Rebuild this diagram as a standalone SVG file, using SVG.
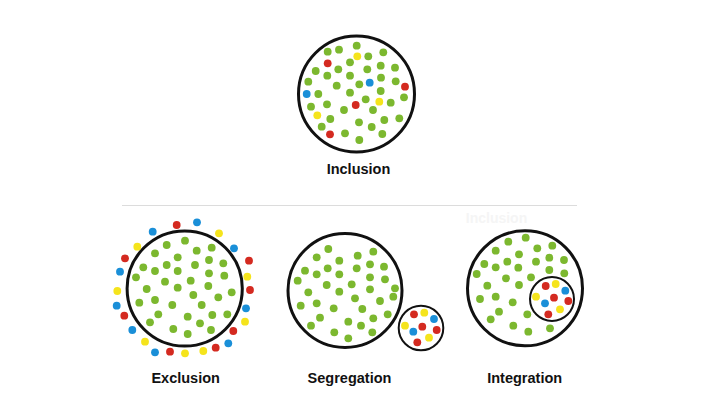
<svg xmlns="http://www.w3.org/2000/svg" width="716" height="412" viewBox="0 0 716 412">
<style>
.ring{fill:none;stroke:#111;stroke-width:3}
.ring2{fill:none;stroke:#111;stroke-width:2}
.g{fill:#7cb82f}
.r{fill:#d42a20}
.b{fill:#1a8fd8}
.y{fill:#f5e41c}
.lbl{font-family:"Liberation Sans",Arial,sans-serif;font-weight:bold;font-size:14.5px;fill:#111;text-anchor:middle}
</style>
<defs>
<circle id="d" r="3.9"/>
</defs>
<rect width="716" height="412" fill="#fff"/>

<g id="inclusion">
<circle class="ring" cx="356.5" cy="94" r="58"/>
<g class="g">
<use href="#d" x="356.7" y="45.7"/><use href="#d" x="327.7" y="51.7"/><use href="#d" x="339" y="49.7"/><use href="#d" x="383.3" y="52.3"/>
<use href="#d" x="368.3" y="56.3"/><use href="#d" x="350" y="62.3"/><use href="#d" x="380.7" y="65.7"/><use href="#d" x="395" y="67.7"/>
<use href="#d" x="315.7" y="71"/><use href="#d" x="338.3" y="69.3"/><use href="#d" x="367.3" y="69.3"/><use href="#d" x="327.3" y="75.7"/>
<use href="#d" x="350" y="75.7"/><use href="#d" x="381" y="77.7"/><use href="#d" x="308.3" y="81.7"/><use href="#d" x="395.7" y="81.3"/>
<use href="#d" x="359.3" y="84.3"/><use href="#d" x="336.7" y="85.7"/><use href="#d" x="318.3" y="94"/><use href="#d" x="350" y="92.7"/>
<use href="#d" x="380.7" y="91"/><use href="#d" x="404" y="97.3"/><use href="#d" x="365.7" y="99.3"/><use href="#d" x="327" y="104.3"/>
<use href="#d" x="311" y="106.7"/><use href="#d" x="390.7" y="102.7"/><use href="#d" x="344" y="110"/><use href="#d" x="373" y="110"/>
<use href="#d" x="330.3" y="119"/><use href="#d" x="359" y="122.3"/><use href="#d" x="384.3" y="120"/><use href="#d" x="399.3" y="118.3"/>
<use href="#d" x="321.7" y="126.7"/><use href="#d" x="371.7" y="127"/><use href="#d" x="345" y="133.3"/><use href="#d" x="382.3" y="134"/>
<use href="#d" x="359.3" y="140"/>
</g>
<g class="r"><use href="#d" x="327.7" y="63.3"/><use href="#d" x="405" y="86.7"/><use href="#d" x="355.7" y="105"/><use href="#d" x="330" y="134.3"/></g>
<g class="b"><use href="#d" x="369.7" y="82.7"/><use href="#d" x="306.7" y="94"/></g>
<g class="y"><use href="#d" x="357.3" y="56.3"/><use href="#d" x="379.3" y="101.7"/><use href="#d" x="317.3" y="115.3"/></g>
<text class="lbl" x="358.5" y="174">Inclusion</text>
</g>

<g id="divider">
<line x1="122" y1="205.5" x2="577" y2="205.5" stroke="#dcdcdc" stroke-width="1.2"/>
<text x="496.5" y="223" font-family="Liberation Sans, Arial, sans-serif" font-weight="bold" font-size="14" fill="#f5f5f5" text-anchor="middle">Inclusion</text>
</g>

<g id="exclusion">
<circle class="ring" cx="184.7" cy="288.5" r="57.6"/>
<g class="g">
<use href="#d" x="185" y="240.7"/><use href="#d" x="166.7" y="245"/><use href="#d" x="196.7" y="250.7"/><use href="#d" x="211.7" y="247.7"/>
<use href="#d" x="155" y="253.3"/><use href="#d" x="177.7" y="257.3"/><use href="#d" x="209" y="260"/><use href="#d" x="223.3" y="263.3"/>
<use href="#d" x="143.3" y="267.3"/><use href="#d" x="166.7" y="265"/><use href="#d" x="195" y="265"/><use href="#d" x="155" y="271"/>
<use href="#d" x="177.7" y="271"/><use href="#d" x="209" y="273.3"/><use href="#d" x="224.3" y="275.7"/><use href="#d" x="136" y="277.3"/>
<use href="#d" x="165" y="281.7"/><use href="#d" x="190.7" y="280.7"/><use href="#d" x="177.7" y="287.7"/><use href="#d" x="146.7" y="289"/>
<use href="#d" x="208.3" y="286"/><use href="#d" x="231.7" y="292.3"/><use href="#d" x="193.3" y="295"/><use href="#d" x="218.3" y="297.3"/>
<use href="#d" x="139.3" y="302.7"/><use href="#d" x="155" y="300"/><use href="#d" x="172.3" y="305"/><use href="#d" x="201.7" y="305"/>
<use href="#d" x="158.3" y="314.3"/><use href="#d" x="187.7" y="316.7"/><use href="#d" x="212.3" y="315"/><use href="#d" x="227.3" y="314.3"/>
<use href="#d" x="150" y="322.3"/><use href="#d" x="200" y="323.3"/><use href="#d" x="173.3" y="329"/><use href="#d" x="211" y="330"/>
<use href="#d" x="187.7" y="334"/>
</g>
<g class="r">
<use href="#d" x="176.7" y="225"/><use href="#d" x="125" y="258.3"/><use href="#d" x="249" y="260.7"/><use href="#d" x="250" y="290"/>
<use href="#d" x="124.3" y="315.7"/><use href="#d" x="233.3" y="331"/><use href="#d" x="215.7" y="347.7"/><use href="#d" x="170" y="351.7"/>
</g>
<g class="b">
<use href="#d" x="197" y="222.3"/><use href="#d" x="152.7" y="231.7"/><use href="#d" x="234" y="248.3"/><use href="#d" x="120" y="271.7"/>
<use href="#d" x="116.7" y="305.7"/><use href="#d" x="246" y="308.3"/><use href="#d" x="132.3" y="330"/><use href="#d" x="228.3" y="343.3"/>
<use href="#d" x="155" y="352.3"/>
</g>
<g class="y">
<use href="#d" x="219" y="233.3"/><use href="#d" x="137.3" y="246.7"/><use href="#d" x="247.3" y="276.7"/><use href="#d" x="117.3" y="291"/>
<use href="#d" x="245" y="321.7"/><use href="#d" x="145" y="341.7"/><use href="#d" x="203.3" y="351"/><use href="#d" x="185" y="353.3"/>
</g>
<text class="lbl" x="185.7" y="382.5">Exclusion</text>
</g>

<g id="segregation">
<circle class="ring" cx="345" cy="290.5" r="57"/>
<g class="g">
<use href="#d" x="328.3" y="249"/><use href="#d" x="373.3" y="251.7"/><use href="#d" x="316.7" y="257.3"/><use href="#d" x="357.7" y="255.7"/>
<use href="#d" x="339.3" y="260.7"/><use href="#d" x="370" y="264.3"/><use href="#d" x="305" y="270.7"/><use href="#d" x="327.7" y="268.3"/>
<use href="#d" x="356.7" y="268.3"/><use href="#d" x="384" y="266.7"/><use href="#d" x="316.7" y="274.3"/><use href="#d" x="339.3" y="274.3"/>
<use href="#d" x="370" y="277.3"/><use href="#d" x="297.7" y="280.7"/><use href="#d" x="385" y="279.3"/><use href="#d" x="326.7" y="285"/>
<use href="#d" x="351.7" y="284.3"/><use href="#d" x="395" y="288.3"/><use href="#d" x="370" y="289.3"/><use href="#d" x="308.3" y="292.3"/>
<use href="#d" x="339.3" y="291.7"/><use href="#d" x="393.3" y="296.7"/><use href="#d" x="355" y="298.3"/><use href="#d" x="380" y="301"/>
<use href="#d" x="316.7" y="303.3"/><use href="#d" x="300.7" y="305.7"/><use href="#d" x="333.7" y="308.3"/><use href="#d" x="362.3" y="309"/>
<use href="#d" x="387.7" y="314.3"/><use href="#d" x="320" y="317.7"/><use href="#d" x="373.3" y="318.3"/><use href="#d" x="348.3" y="321.7"/>
<use href="#d" x="311" y="325.7"/><use href="#d" x="361" y="325.7"/><use href="#d" x="334.3" y="332.3"/><use href="#d" x="372.3" y="332.3"/>
<use href="#d" x="348.3" y="338.3"/>
</g>
<circle class="ring2" cx="421" cy="328" r="22.3" fill="#fff"/>
<g class="r"><use href="#d" x="414" y="314.3"/><use href="#d" x="422.3" y="326.7"/><use href="#d" x="436.7" y="330"/><use href="#d" x="417.3" y="342.3"/></g>
<g class="b"><use href="#d" x="434" y="319"/><use href="#d" x="413.3" y="331.7"/></g>
<g class="y"><use href="#d" x="424.3" y="312.7"/><use href="#d" x="405" y="325.7"/><use href="#d" x="429" y="337.7"/></g>
<text class="lbl" x="349.5" y="382.5">Segregation</text>
</g>

<g id="integration">
<circle class="ring" cx="525" cy="288.3" r="57.5"/>
<g class="g">
<use href="#d" x="525.7" y="237.7"/><use href="#d" x="508.3" y="241.7"/><use href="#d" x="495.7" y="250.7"/><use href="#d" x="537.3" y="248.3"/>
<use href="#d" x="552.3" y="245.7"/><use href="#d" x="519" y="254.3"/><use href="#d" x="484.3" y="264"/><use href="#d" x="507.3" y="261.7"/>
<use href="#d" x="536" y="261.7"/><use href="#d" x="549.3" y="257.7"/><use href="#d" x="564" y="260"/><use href="#d" x="495.7" y="267.3"/>
<use href="#d" x="518.3" y="267.7"/><use href="#d" x="549.3" y="270"/><use href="#d" x="476.7" y="274"/><use href="#d" x="564.3" y="273.3"/>
<use href="#d" x="506" y="278.3"/><use href="#d" x="531" y="277.3"/><use href="#d" x="487.3" y="285.7"/><use href="#d" x="519" y="285"/>
<use href="#d" x="480" y="299"/><use href="#d" x="495.7" y="296.7"/><use href="#d" x="512.7" y="302.3"/><use href="#d" x="499" y="311.7"/>
<use href="#d" x="527.3" y="314.3"/><use href="#d" x="490.7" y="319.3"/><use href="#d" x="550" y="328.3"/><use href="#d" x="513.3" y="325.7"/>
<use href="#d" x="528.3" y="331.7"/>
</g>
<circle class="ring2" cx="552" cy="299" r="22"/>
<g class="r"><use href="#d" x="545.7" y="286"/><use href="#d" x="554" y="297.7"/><use href="#d" x="568.3" y="301"/><use href="#d" x="548.3" y="314.3"/></g>
<g class="b"><use href="#d" x="565.3" y="290.7"/><use href="#d" x="545" y="303.3"/></g>
<g class="y"><use href="#d" x="555.7" y="284"/><use href="#d" x="536" y="296.7"/><use href="#d" x="560" y="309.3"/></g>
<text class="lbl" x="524.7" y="382.5">Integration</text>
</g>

<g id="connectors"></g>
</svg>
